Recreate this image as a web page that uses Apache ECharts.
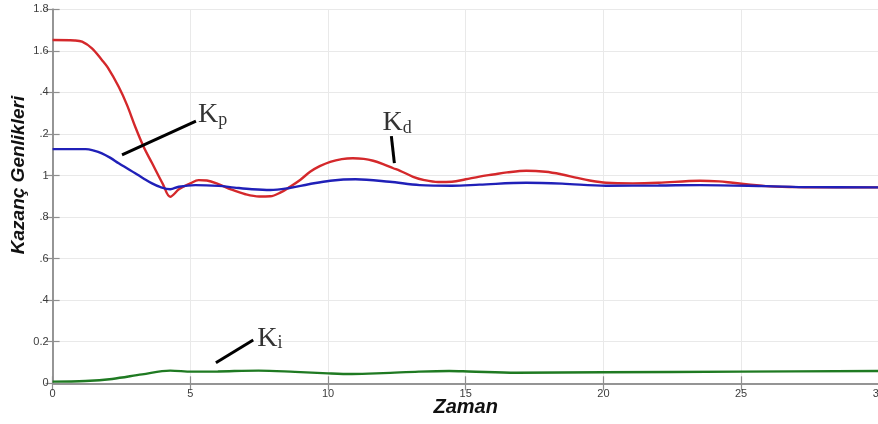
<!DOCTYPE html>
<html>
<head>
<meta charset="utf-8">
<script src="https://cdn.jsdelivr.net/npm/echarts@6/dist/echarts.min.js"></script>
<style>
  html, body { margin: 0; padding: 0; background: #fff; }
  #chart { width: 878px; height: 424px; }
</style>
</head>
<body>
<div id="chart"></div>
<script>
// Gain trajectories over time
const kdTime = [0, 0.8, 1.07, 1.43, 1.79, 2.0, 2.4, 2.7, 3.0, 3.3, 3.61, 4.0, 4.27, 4.6, 5.0, 5.3, 5.6, 6.0, 6.5, 7.0, 7.5, 7.9, 8.3, 8.62, 9.0, 9.35, 9.7, 10.08, 10.5, 10.9, 11.3, 11.64, 12.0, 12.37, 12.6, 13.09, 13.5, 14.0, 14.5, 15.0, 15.5, 16.0, 16.5, 17.2, 17.9, 18.5, 19.0, 19.5, 20.1, 21.07, 22.0, 23.5, 24.2, 24.7, 25.9, 27.0, 27.7, 30];
const kdValues = [1.652, 1.650, 1.644, 1.612, 1.556, 1.520, 1.427, 1.340, 1.235, 1.140, 1.060, 0.960, 0.898, 0.935, 0.962, 0.978, 0.976, 0.960, 0.932, 0.910, 0.899, 0.900, 0.920, 0.946, 0.980, 1.018, 1.045, 1.066, 1.079, 1.083, 1.080, 1.071, 1.055, 1.035, 1.024, 0.994, 0.978, 0.969, 0.970, 0.982, 0.995, 1.005, 1.015, 1.023, 1.018, 1.005, 0.990, 0.976, 0.965, 0.962, 0.965, 0.975, 0.972, 0.965, 0.949, 0.944, 0.943, 0.943];

const kpTime = [0, 1.2, 1.5, 1.79, 2.1, 2.4, 2.7, 3.0, 3.3, 3.61, 3.9, 4.27, 4.58, 5.18, 6.03, 6.6, 7.24, 7.9, 8.6, 9.3, 10.08, 11.0, 12.24, 13.33, 14.5, 15.5, 17.2, 18.5, 20.1, 22.0, 23.5, 25.9, 27.5, 30];
const kpValues = [1.127, 1.127, 1.120, 1.107, 1.085, 1.059, 1.035, 1.011, 0.986, 0.962, 0.945, 0.934, 0.946, 0.954, 0.950, 0.942, 0.934, 0.930, 0.940, 0.958, 0.975, 0.982, 0.970, 0.954, 0.951, 0.956, 0.965, 0.961, 0.951, 0.952, 0.954, 0.949, 0.944, 0.943];

const kiTime = [0, 1.19, 2.16, 3.25, 4.27, 5.06, 6.0, 7.48, 8.8, 10.0, 10.87, 12.0, 13.3, 14.4, 15.1, 16.85, 20.0, 24.95, 30];
const kiValues = [0.008, 0.011, 0.021, 0.043, 0.061, 0.056, 0.057, 0.061, 0.055, 0.048, 0.045, 0.049, 0.056, 0.059, 0.057, 0.051, 0.053, 0.056, 0.059];

// Axis ranges and ticks
const xTicks = [0, 5, 10, 15, 20, 25, 30];
const yTicks = [0, 0.2, 0.4, 0.6, 0.8, 1, 1.2, 1.4, 1.6, 1.8];

// Callout pointers (data coordinates) and their labels
const pointerKp = [[2.52, 1.099], [5.205, 1.262]];
const pointerKd = [[12.30, 1.190], [12.41, 1.060]];
const pointerKi = [[5.93, 0.099], [7.285, 0.208]];
const calloutLabels = [
  { pos: [5.28, 1.243], sub: 'p' },
  { pos: [11.98, 1.204], sub: 'd' },
  { pos: [7.43, 0.168], sub: 'i' }
];

const pairs = (xs, ys) => xs.map((x, i) => [x, ys[i]]);

const axisGray = '#8f8f8f';
const gridGray = '#e9e9e9';

const chart = echarts.init(document.getElementById('chart'), null, { renderer: 'canvas' });

function pointerSeries(pts) {
  return {
    type: 'line', data: pts, showSymbol: false, silent: true,
    lineStyle: { color: '#000', width: 3 }, z: 5, animation: false
  };
}

const option = {
  animation: false,
  backgroundColor: '#fff',
  grid: { left: 52.6, top: 9.3, right: -0.8, bottom: 40.7, containLabel: false, outerBoundsMode: 'none' },
  xAxis: [
    {
      type: 'value', min: xTicks[0], max: xTicks[xTicks.length - 1], interval: 5,
      axisLine: { show: true, lineStyle: { color: axisGray, width: 1.5 } },
      axisTick: { show: true, inside: true, length: 7, lineStyle: { color: axisGray, width: 1.2 } },
      axisLabel: { margin: 5, color: '#3c3c3c', fontSize: 11, fontFamily: 'Arial, Liberation Sans' },
      splitLine: { show: true, lineStyle: { color: gridGray, width: 1 } },
      name: 'Zaman', nameLocation: 'middle', nameGap: 14, nameMoveOverlap: false,
      nameTextStyle: { fontSize: 20, fontWeight: 'bold', fontStyle: 'italic', color: '#111', fontFamily: 'Arial, Liberation Sans', verticalAlign: 'top' }
    },
    {
      type: 'value', position: 'top', min: xTicks[0], max: xTicks[xTicks.length - 1], interval: 5,
      axisLine: { show: true, lineStyle: { color: axisGray, width: 1.5 } },
      axisTick: { show: true, inside: true, length: 7, lineStyle: { color: axisGray, width: 1.2 } },
      axisLabel: { show: false }, splitLine: { show: false }
    }
  ],
  yAxis: [
    {
      type: 'value', min: yTicks[0], max: yTicks[yTicks.length - 1], interval: 0.2,
      axisLine: { show: true, lineStyle: { color: axisGray, width: 1.5 } },
      axisTick: { show: true, inside: true, length: 7, lineStyle: { color: axisGray, width: 1.2 } },
      axisLabel: { margin: 4, color: '#3c3c3c', fontSize: 11, fontFamily: 'Arial, Liberation Sans' },
      splitLine: { show: true, lineStyle: { color: gridGray, width: 1 } }
    },
    {
      type: 'value', position: 'right', min: yTicks[0], max: yTicks[yTicks.length - 1], interval: 0.2,
      axisLine: { show: true, lineStyle: { color: axisGray, width: 1.5 } },
      axisTick: { show: true, inside: true, length: 7, lineStyle: { color: axisGray, width: 1.2 } },
      axisLabel: { show: false }, splitLine: { show: false }
    }
  ],
  series: [
    {
      name: 'Kd', type: 'line', data: pairs(kdTime, kdValues), showSymbol: false, smooth: 0.35,
      lineStyle: { color: '#d4282b', width: 2.4 }, z: 3
    },
    {
      name: 'Kp', type: 'line', data: pairs(kpTime, kpValues), showSymbol: false, smooth: 0.35,
      lineStyle: { color: '#2020b8', width: 2.4 }, z: 4
    },
    {
      name: 'Ki', type: 'line', data: pairs(kiTime, kiValues), showSymbol: false, smooth: 0.35,
      lineStyle: { color: '#1f7a22', width: 2.4 }, z: 3
    },
    pointerSeries(pointerKp),
    pointerSeries(pointerKd),
    pointerSeries(pointerKi),
    {
      type: 'scatter', symbolSize: 0, silent: true, z: 6,
      data: calloutLabels.map(c => ({ value: c.pos, sub: c.sub })),
      label: {
        show: true, position: [0, 0], align: 'left', verticalAlign: 'bottom', offset: [0, 4],
        formatter: p => '{k|K}{s|' + p.data.sub + '}',
        rich: {
          k: { fontFamily: 'Liberation Serif, Times New Roman, serif', fontSize: 28, color: '#000', lineHeight: 28 },
          s: { fontFamily: 'Liberation Serif, Times New Roman, serif', fontSize: 18, color: '#000', verticalAlign: 'bottom', lineHeight: 28 }
        }
      }
    }
  ],
  graphic: [
    {
      type: 'rect', left: 0, top: 82, z: 100,
      shape: { width: 39, height: 230 }, style: { fill: '#fff' }
    },
    {
      type: 'text', x: 19, y: 175, rotation: Math.PI / 2, z: 101,
      style: {
        text: 'Kazanç Genlikleri', font: 'italic bold 19px Arial, "Liberation Sans"',
        fill: '#111', align: 'center', verticalAlign: 'middle'
      }
    }
  ]
};

chart.setOption(option);
</script>
</body>
</html>
